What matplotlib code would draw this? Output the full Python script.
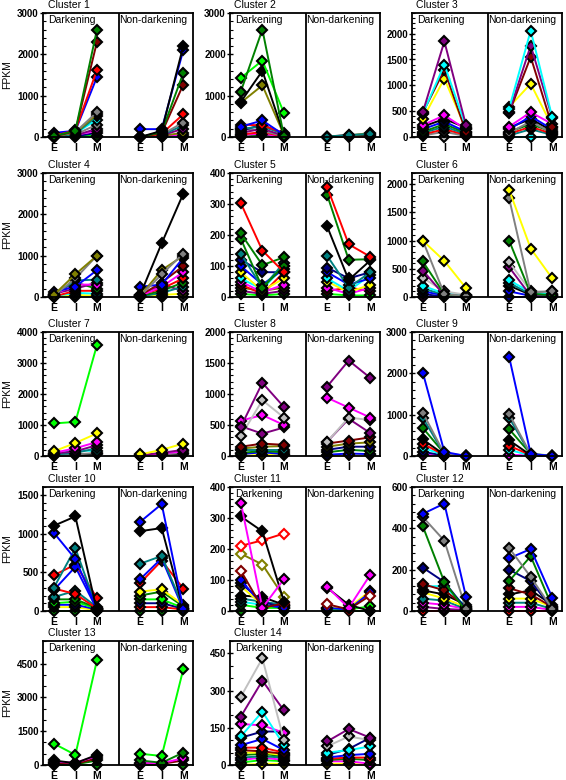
import matplotlib.pyplot as plt
from matplotlib.ticker import MultipleLocator, AutoMinorLocator
from matplotlib.transforms import blended_transform_factory

plt.rcParams['font.family'] = ['Liberation Sans', 'DejaVu Sans']
plt.rcParams['font.weight'] = 'bold'

stages = ['E', 'I', 'M']
groups = ['Darkening', 'Non-darkening']

# y-axis top and major step for each cluster
y_top = [3000, 3000, 2400, 3000, 400, 2200, 4000, 2000, 3000, 1600, 400, 600, 5500, 500]
y_step = [1000, 1000, 500, 1000, 100, 500, 1000, 500, 1000, 500, 100, 200, 1500, 150]

# ---- Cluster 1
c1_dark = [[20, 150, 2600], [10, 140, 2300], [30, 160, 1620], [100, 150, 1450], [10, 120, 600],
           [20, 100, 550], [5, 80, 500], [10, 90, 420], [15, 60, 300], [5, 40, 200],
           [10, 50, 150], [0, 20, 100], [30, 60, 30], [0, 0, 0]]
c1_dark_col = ['green', 'maroon', 'red', 'blue', 'gray', 'olive', 'teal', 'cyan', 'gray', 'purple',
               'magenta', 'navy', 'lime', 'cyan']
c1_non = [[0, 150, 2200], [190, 190, 2100], [0, 120, 1550], [0, 100, 1270], [0, 80, 550],
          [0, 60, 350], [0, 50, 280], [0, 40, 200], [0, 30, 100], [0, 20, 50], [0, 0, 0]]
c1_non_col = ['black', 'blue', 'green', 'maroon', 'red', 'gray', 'teal', 'purple', 'olive',
              'magenta', 'cyan']

# ---- Cluster 2
c2_dark = [[1100, 2600, 20], [1430, 1850, 580], [850, 1600, 50], [830, 1250, 50], [250, 400, 50],
           [300, 280, 100], [200, 250, 80], [150, 300, 60], [100, 200, 30], [200, 150, 20],
           [60, 120, 10], [50, 80, 0], [0, 50, 0]]
c2_dark_col = ['green', 'lime', 'black', 'olive', 'blue', 'red', 'teal', 'navy', 'purple', 'gray',
               'red', 'magenta', 'green']
c2_non = [[10, 40, 80], [5, 30, 100], [10, 50, 60], [0, 20, 0], [0, 10, 20]]
c2_non_col = ['teal', 'olive', 'black', 'red', 'green']

# ---- Cluster 3
c3_dark = [[480, 1850, 230], [450, 1400, 200], [470, 1300, 100], [350, 1130, 150], [230, 420, 150],
           [200, 350, 180], [150, 300, 100], [100, 250, 80], [80, 200, 60], [50, 150, 40],
           [30, 100, 20], [10, 0, 10]]
c3_dark_col = ['purple', 'cyan', 'maroon', 'yellow', 'magenta', 'black', 'blue', 'green', 'teal',
               'red', 'gray', 'silver']
c3_non = [[550, 2060, 380], [480, 1770, 370], [470, 1550, 200], [580, 1030, 200], [200, 480, 250],
          [150, 400, 150], [180, 350, 120], [80, 300, 80], [100, 250, 100], [60, 200, 60],
          [30, 150, 40], [0, 0, 0]]
c3_non_col = ['cyan', 'purple', 'maroon', 'yellow', 'magenta', 'blue', 'black', 'gray', 'green',
              'red', 'teal', 'cyan']

# ---- Cluster 4
c4_dark = [[50, 550, 1000], [30, 450, 1000], [120, 250, 650], [40, 400, 420], [60, 300, 300],
           [80, 200, 350], [20, 350, 200], [10, 150, 150], [20, 100, 80], [0, 50, 30], [0, 0, 0]]
c4_dark_col = ['olive', 'gray', 'blue', 'teal', 'magenta', 'purple', 'green', 'red', 'cyan',
               'yellow', 'silver']
c4_non = [[50, 1300, 2500], [20, 550, 1050], [30, 650, 1000], [250, 300, 950], [40, 350, 750],
          [30, 250, 600], [60, 200, 450], [20, 150, 350], [10, 100, 250], [10, 300, 150],
          [0, 50, 80], [0, 0, 0]]
c4_non_col = ['black', 'gray', 'olive', 'blue', 'maroon', 'magenta', 'red', 'green', 'teal',
              'purple', 'yellow', 'silver']

# ---- Cluster 5
c5_dark = [[303, 150, 80], [205, 103, 128], [188, 30, 100], [140, 30, 110], [120, 80, 80],
           [100, 40, 90], [80, 20, 60], [60, 25, 100], [50, 15, 40], [40, 10, 80], [30, 20, 30],
           [20, 10, 20], [10, 5, 10]]
c5_dark_col = ['red', 'green', 'green', 'teal', 'navy', 'blue', 'yellow', 'cyan', 'magenta', 'red',
               'olive', 'purple', 'lime']
c5_non = [[355, 170, 130], [330, 120, 122], [228, 55, 118], [133, 30, 80], [95, 60, 80],
          [80, 40, 60], [60, 20, 70], [50, 15, 40], [30, 10, 30], [20, 30, 20], [10, 5, 5]]
c5_non_col = ['red', 'green', 'black', 'teal', 'navy', 'blue', 'cyan', 'yellow', 'magenta', 'red',
              'lime']

# ---- Cluster 6
c6_dark = [[1000, 640, 160], [1000, 50, 20], [630, 50, 0], [470, 30, 10], [340, 100, 40],
           [200, 60, 30], [150, 40, 20], [100, 30, 10], [50, 10, 5], [0, 0, 0]]
c6_dark_col = ['yellow', 'gray', 'green', 'purple', 'silver', 'cyan', 'teal', 'blue', 'navy',
               'purple']
c6_non = [[1900, 860, 330], [1750, 80, 100], [1000, 60, 30], [620, 100, 100], [530, 20, 0],
          [300, 80, 50], [250, 50, 20], [200, 40, 30], [100, 20, 10], [0, 0, 0]]
c6_non_col = ['yellow', 'gray', 'green', 'silver', 'purple', 'cyan', 'teal', 'black', 'blue',
              'navy']

# ---- Cluster 7
c7_dark = [[1050, 1100, 3580], [150, 420, 730], [100, 250, 450], [80, 150, 350], [50, 100, 250],
           [30, 200, 150], [20, 50, 100], [0, 20, 50]]
c7_dark_col = ['lime', 'yellow', 'magenta', 'purple', 'teal', 'cyan', 'gray', 'black']
c7_non = [[50, 200, 400], [30, 100, 200], [20, 80, 150], [10, 50, 100], [0, 30, 50]]
c7_non_col = ['yellow', 'purple', 'magenta', 'gray', 'black']

# ---- Cluster 8
c8_dark = [[470, 1180, 790], [320, 900, 620], [570, 660, 500], [480, 360, 460], [150, 200, 180],
           [120, 150, 160], [100, 100, 100], [50, 80, 60], [30, 60, 30], [0, 20, 10]]
c8_dark_col = ['purple', 'silver', 'magenta', 'purple', 'maroon', 'olive', 'teal', 'green', 'blue',
               'yellow']
c8_non = [[1120, 1540, 1260], [940, 780, 620], [230, 620, 580], [230, 600, 370], [200, 250, 300],
          [150, 200, 220], [100, 150, 150], [60, 100, 80], [20, 40, 30], [0, 10, 10]]
c8_non_col = ['purple', 'magenta', 'silver', 'purple', 'maroon', 'olive', 'navy', 'green', 'blue',
              'yellow']

# ---- Cluster 9
c9_dark = [[2020, 100, 0], [1050, 50, 0], [930, 40, 0], [680, 60, 10], [400, 30, 0], [300, 20, 0],
           [200, 20, 0], [100, 10, 0], [30, 10, 0]]
c9_dark_col = ['blue', 'gray', 'teal', 'green', 'black', 'red', 'cyan', 'navy', 'magenta']
c9_non = [[2400, 50, 0], [1020, 40, 0], [930, 30, 0], [650, 50, 10], [380, 20, 0], [250, 20, 0],
          [150, 10, 0], [30, 10, 0]]
c9_non_col = ['blue', 'gray', 'teal', 'green', 'black', 'red', 'cyan', 'magenta']

# ---- Cluster 10
c10_dark = [[1100, 1220, 0], [1010, 670, 30], [300, 810, 30], [270, 570, 20], [460, 600, 170],
            [290, 220, 30], [180, 260, 50], [150, 150, 40], [100, 120, 30], [80, 80, 20],
            [50, 50, 10], [0, 0, 0]]
c10_dark_col = ['black', 'blue', 'teal', 'blue', 'red', 'red', 'teal', 'green', 'lime', 'blue',
                'yellow', 'green']
c10_non = [[1150, 1380, 30], [1030, 1070, 20], [610, 710, 50], [410, 680, 20], [360, 650, 290],
           [250, 280, 80], [200, 250, 60], [150, 150, 40], [100, 100, 30], [50, 50, 20], [0, 0, 0]]
c10_non_col = ['blue', 'black', 'teal', 'blue', 'red', 'yellow', 'green', 'lime', 'navy', 'red',
               'green']

# ---- Cluster 11
c11_dark = [[350, 10, 103], [305, 257, 30], [210, 228, 250], [185, 150, 45], [130, 10, 25],
            [100, 20, 10], [90, 30, 10], [80, 20, 15], [50, 45, 20], [40, 30, 20], [30, 20, 15],
            [20, 10, 10], [0, 0, 0]]
c11_dark_col = ['magenta', 'black', 'red', 'olive', 'maroon', 'blue', 'navy', 'yellow', 'black',
                'teal', 'cyan', 'lime', 'green']
c11_non = [[78, 10, 117], [75, 20, 0], [22, 5, 50], [10, 5, 60], [10, 10, 65], [5, 5, 15], [0, 0, 0]]
c11_non_col = ['magenta', 'black', 'maroon', 'blue', 'yellow', 'lime', 'green']

# ---- Cluster 12
c12_dark = [[470, 520, 70], [455, 340, 10], [410, 140, 0], [210, 140, 10], [130, 100, 20],
            [120, 120, 20], [100, 80, 30], [90, 60, 20], [60, 50, 10], [40, 30, 10], [20, 10, 5],
            [0, 0, 0]]
c12_dark_col = ['blue', 'gray', 'green', 'navy', 'maroon', 'cyan', 'black', 'yellow', 'teal',
                'magenta', 'purple', 'red']
c12_non = [[305, 165, 10], [255, 300, 65], [145, 265, 20], [200, 145, 10], [110, 80, 20],
           [80, 100, 30], [60, 60, 20], [40, 40, 10], [20, 20, 5], [0, 0, 0]]
c12_non_col = ['gray', 'blue', 'green', 'navy', 'maroon', 'black', 'yellow', 'teal', 'magenta',
               'red']

# ---- Cluster 13
c13_dark = [[950, 450, 4650], [200, 80, 450], [150, 100, 400], [100, 50, 300], [50, 30, 200],
            [0, 0, 0]]
c13_dark_col = ['lime', 'black', 'magenta', 'maroon', 'green', 'green']
c13_non = [[500, 400, 4250], [200, 100, 550], [100, 80, 300], [50, 50, 200], [0, 0, 0]]
c13_non_col = ['lime', 'green', 'magenta', 'maroon', 'green']

# ---- Cluster 14
c14_dark = [[275, 430, 100], [195, 340, 220], [115, 215, 80], [165, 160, 130], [110, 135, 135],
            [80, 105, 60], [70, 70, 50], [60, 55, 45], [50, 50, 40], [40, 45, 35], [30, 35, 30],
            [20, 30, 20], [10, 20, 15], [0, 5, 5]]
c14_dark_col = ['silver', 'purple', 'cyan', 'magenta', 'navy', 'blue', 'red', 'maroon', 'yellow',
                'green', 'teal', 'magenta', 'lime', 'yellow']
c14_non = [[95, 145, 110], [75, 115, 100], [50, 60, 75], [40, 65, 110], [30, 40, 45],
           [25, 30, 30], [20, 25, 20], [15, 15, 5], [5, 5, 0]]
c14_non_col = ['purple', 'silver', 'cyan', 'navy', 'blue', 'red', 'green', 'magenta', 'yellow']

clusters = [
    (c1_dark, c1_dark_col, c1_non, c1_non_col),
    (c2_dark, c2_dark_col, c2_non, c2_non_col),
    (c3_dark, c3_dark_col, c3_non, c3_non_col),
    (c4_dark, c4_dark_col, c4_non, c4_non_col),
    (c5_dark, c5_dark_col, c5_non, c5_non_col),
    (c6_dark, c6_dark_col, c6_non, c6_non_col),
    (c7_dark, c7_dark_col, c7_non, c7_non_col),
    (c8_dark, c8_dark_col, c8_non, c8_non_col),
    (c9_dark, c9_dark_col, c9_non, c9_non_col),
    (c10_dark, c10_dark_col, c10_non, c10_non_col),
    (c11_dark, c11_dark_col, c11_non, c11_non_col),
    (c12_dark, c12_dark_col, c12_non, c12_non_col),
    (c13_dark, c13_dark_col, c13_non, c13_non_col),
    (c14_dark, c14_dark_col, c14_non, c14_non_col),
]

# open diamonds in cluster 11
hollow = {10: {'red', 'olive', 'maroon'}}

dark_x = [0, 1, 2]
non_x = [4, 5, 6]


def draw(ax, vals, cols, xs, open_cols):
    # draw from the back so the first (largest) series end up on top
    for v, col in reversed(list(zip(vals, cols))):
        if col in open_cols:
            face, edge = 'white', col
        else:
            face, edge = col, 'black'
        ax.plot(xs, v, color=col, lw=1.4, marker='D', ms=5.5, mfc=face, mec=edge, mew=1.5,
                clip_on=False)


W, H = 566, 780
col_left = [43, 230, 412]
row_top = [13, 173, 332, 487, 641]
ax_w, ax_h = 150, 124

fig = plt.figure(figsize=(W / 100, H / 100), dpi=100)

for k, (dv, dc, nv, nc) in enumerate(clusters):
    r, c = divmod(k, 3)
    ax = fig.add_axes([col_left[c] / W, 1 - (row_top[r] + ax_h) / H, ax_w / W, ax_h / H])
    open_cols = hollow.get(k, set())
    draw(ax, dv, dc, dark_x, open_cols)
    draw(ax, nv, nc, non_x, open_cols)

    ax.axvline(3, color='black', lw=1.3)
    ax.set_xlim(-0.5, 6.45)
    ax.set_ylim(0, y_top[k])
    ax.set_xticks(dark_x + non_x)
    ax.set_xticklabels(stages * 2)
    ax.tick_params(axis='x', length=0, pad=4, labelsize=7.5)
    ax.yaxis.set_major_locator(MultipleLocator(y_step[k]))
    ax.yaxis.set_minor_locator(AutoMinorLocator(3 if y_step[k] in (1500, 150) else 5))
    ax.tick_params(axis='y', which='major', direction='inout', length=4, width=1,
                   labelsize=7, pad=1)
    ax.tick_params(axis='y', which='minor', direction='in', length=2, width=0.8)
    for s in ax.spines.values():
        s.set_linewidth(1.3)

    tr = blended_transform_factory(ax.transData, ax.transAxes)
    ax.text(-0.27, 0.985, groups[0], transform=tr, ha='left', va='top', fontsize=7.5,
            fontweight='normal')
    ax.text(3.05, 0.985, groups[1], transform=tr, ha='left', va='top', fontsize=7.5,
            fontweight='normal')
    ax.text(0.03, 1.025, 'Cluster %d' % (k + 1), transform=ax.transAxes, ha='left',
            va='bottom', fontsize=7.5, fontweight='normal')
    if c == 0:
        ax.set_ylabel('FPKM', fontsize=7.5, labelpad=4)

fig.savefig('out.png', dpi=100)
